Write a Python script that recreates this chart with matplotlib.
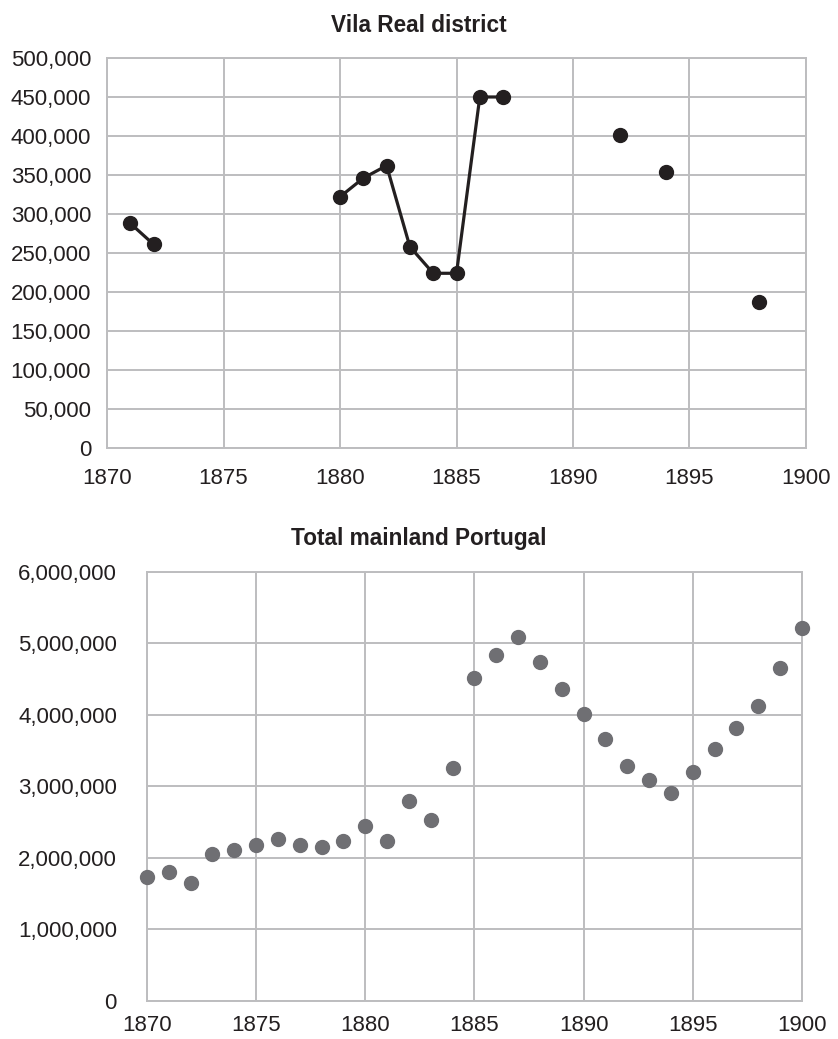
import numpy as np
import matplotlib
matplotlib.use("Agg")
import matplotlib.pyplot as plt
from matplotlib.ticker import FuncFormatter, MultipleLocator

plt.rcParams['font.family'] = ['Liberation Sans', 'DejaVu Sans']

# Vila Real district (NaN = no data, breaks the line)
vr_years = np.arange(1870, 1901)
vr_values = np.full(vr_years.shape, np.nan)
vr_known = {
    1871: 288000, 1872: 261000,
    1880: 322000, 1881: 346000, 1882: 362000, 1883: 258000,
    1884: 224000, 1885: 224000, 1886: 450000, 1887: 450000,
    1892: 401000, 1894: 354000, 1898: 187000,
}
for yr, v in vr_known.items():
    vr_values[yr - 1870] = v

# Total mainland Portugal
pt_years = np.arange(1870, 1901)
pt_values = [
    1727000, 1807000, 1643000, 2049000, 2105000, 2185000, 2263000, 2185000,
    2157000, 2240000, 2450000, 2235000, 2800000, 2534000, 3256000, 4520000,
    4842000, 5084000, 4734000, 4357000, 4007000, 3662000, 3284000, 3094000,
    2912000, 3206000, 3527000, 3815000, 4119000, 4655000, 5214000,
]

grid_col = '#bdbdbf'
text_col = '#231f20'
fmt = FuncFormatter(lambda v, p: f"{int(v):,}")

fig = plt.figure(figsize=(8.38, 10.39), dpi=100)
ax1 = fig.add_axes([0.1277, 0.5688, 0.8341, 0.3754])
ax2 = fig.add_axes([0.1754, 0.0369, 0.7816, 0.4126])


def style(ax, ymax, ystep, ypad, xpad):
    ax.set_xlim(1870, 1900)
    ax.set_ylim(0, ymax)
    ax.xaxis.set_major_locator(MultipleLocator(5))
    ax.yaxis.set_major_locator(MultipleLocator(ystep))
    ax.yaxis.set_major_formatter(fmt)
    ax.grid(True, color=grid_col, linewidth=1.4)
    ax.set_axisbelow(True)
    for s in ax.spines.values():
        s.set_color(grid_col)
        s.set_linewidth(1.4)
    ax.tick_params(length=0, labelsize=16, colors=text_col)
    ax.tick_params(axis='y', pad=ypad)
    ax.tick_params(axis='x', pad=xpad)


# top chart
ax1.plot(vr_years, vr_values, color='#231f20', linewidth=2.3,
         marker='o', markersize=10, clip_on=False, zorder=3)
style(ax1, 500000, 50000, 11.5, 14.5)
fig.text(0.5, 0.9695, 'Vila Real district', ha='center', va='baseline',
         fontsize=16.3, fontweight='bold', color=text_col)

# bottom chart
ax2.plot(pt_years, pt_values, linestyle='none', marker='o', markersize=10,
         color='#6f6f73', clip_on=False, zorder=3)
style(ax2, 6000000, 1000000, 21.6, 10)
fig.text(0.5, 0.4755, 'Total mainland Portugal', ha='center', va='baseline',
         fontsize=16.3, fontweight='bold', color=text_col)

fig.savefig('out.png', dpi=100)
